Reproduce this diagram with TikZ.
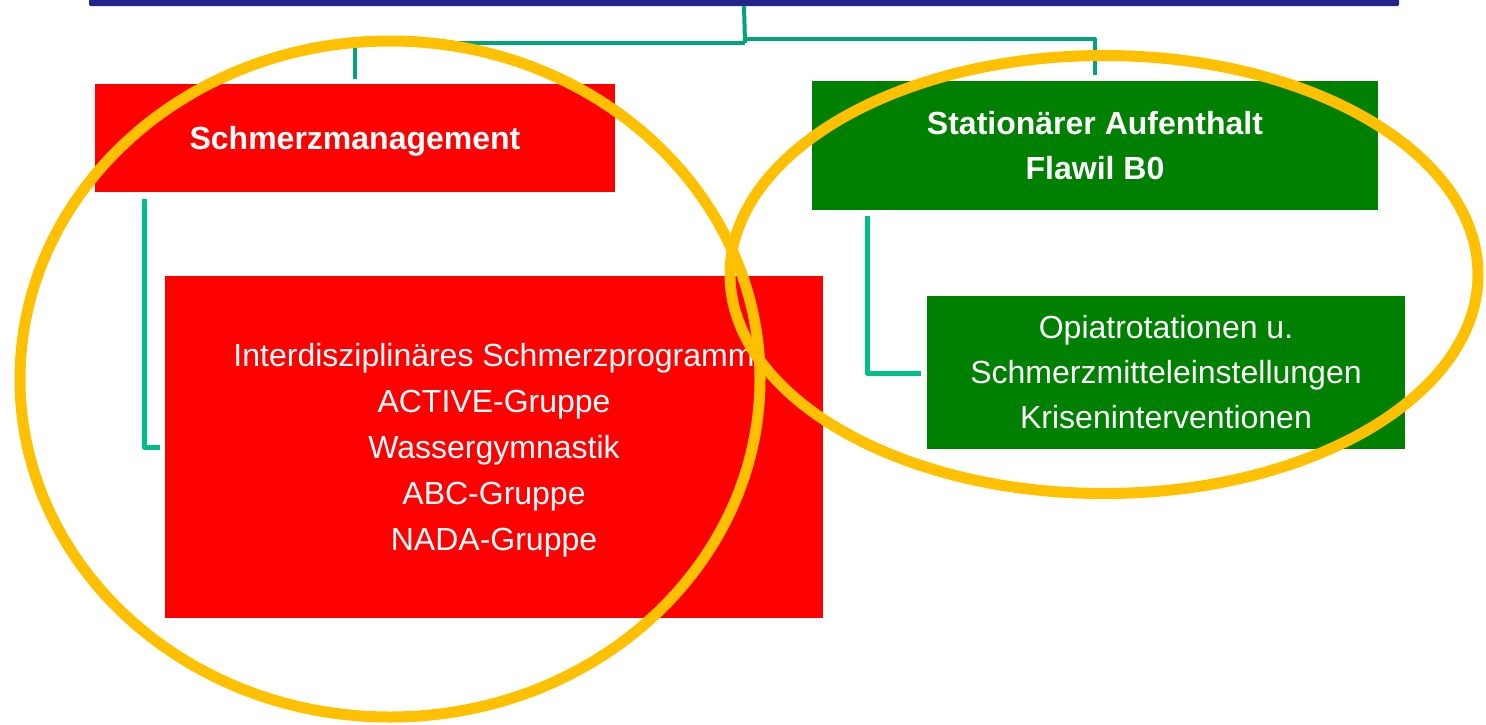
\documentclass[tikz,border=0pt]{standalone}
\usepackage{fontspec}
\setmainfont{Liberation Sans}
\definecolor{barblue}{RGB}{35,35,140}
\definecolor{tealA}{RGB}{0,163,122}
\definecolor{tealB}{RGB}{0,190,138}
\definecolor{boxred}{RGB}{255,0,0}
\definecolor{boxgreen}{RGB}{0,128,0}
\definecolor{ringgold}{RGB}{255,192,0}
\newcommand{\topstrut}{\rule{0pt}{29pt}}
\begin{document}
\begin{tikzpicture}[x=1pt,y=-1pt,
  box/.style={draw=none,inner sep=0pt,outer sep=0pt,text=white,align=center,
    font=\fontsize{32}{46}\selectfont},
  redbox/.style={box,fill=boxred},
  greenbox/.style={box,fill=boxgreen},
  topconn/.style={draw=tealA,line width=4pt,line join=round},
  lowconn/.style={draw=tealB,line width=5pt,line join=round},
  ring/.style={draw=ringgold,line width=11pt}]
\useasboundingbox (0,0) rectangle (1486,724);
% top bar
\node[fill=barblue,inner sep=0pt,outer sep=0pt,minimum width=1310pt,minimum height=10pt,rounded corners=1.5pt] (bar) at (744,1) {};
% boxes
\node[redbox,minimum width=520pt,minimum height=108pt,font=\fontsize{32}{46}\selectfont\bfseries] (sm) at (355,138) {\topstrut Schmerzmanagement};
\node[greenbox,minimum width=566pt,minimum height=129pt,font=\fontsize{32}{45}\selectfont\bfseries] (st) at (1095,145.5) {Stationärer Aufenthalt\\Flawil B0};
\node[redbox,minimum width=658pt,minimum height=342pt] (ip) at (494,447) {\topstrut Interdisziplinäres Schmerzprogramm\\ACTIVE-Gruppe\\Wassergymnastik\\ABC-Gruppe\\NADA-Gruppe};
\node[greenbox,minimum width=478pt,minimum height=153pt,font=\fontsize{32}{45}\selectfont] (op) at (1166,372.5) {Opiatrotationen u.\\Schmerzmitteleinstellungen\\Kriseninterventionen};
% top connectors
\coordinate (jL) at (745,43);
\coordinate (jR) at (745,39);
\draw[topconn] (bar.south) -- (jL);
\draw[topconn] (jL) -| ([yshift=5pt]sm.north);
\draw[topconn] (jR) -| ([yshift=6pt]st.north);
% lower connectors
\coordinate (a1) at (144,199);
\coordinate (a2) at (160,447);
\draw[lowconn] (a1) |- (a2);
\coordinate (b1) at (867,216);
\coordinate (b2) at (921,373);
\draw[lowconn] (b1) |- (b2);
% rings
\draw[ring] (390,379) ellipse [x radius=370pt, y radius=338pt];
\draw[ring] (1104,274.5) ellipse [x radius=374pt, y radius=219pt];
\end{tikzpicture}
\end{document}
